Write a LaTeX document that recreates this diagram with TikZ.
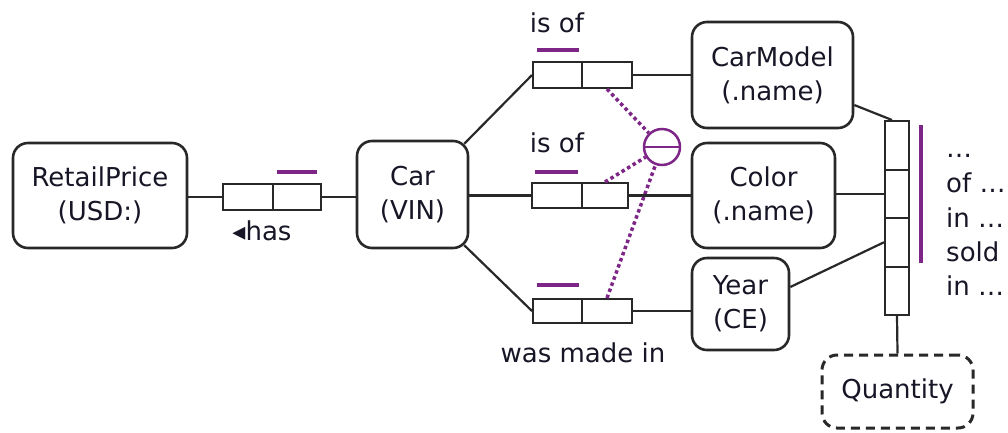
\documentclass[tikz,border=0pt]{standalone}
\usepackage{fontspec}
\setmainfont{DejaVu Sans}
\usetikzlibrary{calc}

\definecolor{txt}{RGB}{22,22,38}
\definecolor{linec}{RGB}{40,40,40}
\definecolor{purp}{RGB}{125,38,135}
\newcommand{\dgmfont}{\fontsize{26}{34}\selectfont}

\tikzset{
  ent/.style={draw=linec, line width=2.6pt, rounded corners=15pt, inner sep=0pt,
    align=center, text=txt, font=\dgmfont, fill=white},
  cell/.style={draw=linec, line width=2pt, inner sep=0pt, minimum height=26pt, fill=white},
  qcell/.style={draw=linec, line width=2pt, inner sep=0pt, minimum width=24pt,
    minimum height=48.5pt, fill=white},
  conn/.style={draw=linec, line width=2.2pt},
  ubar/.style={draw=purp, line width=4pt},
  dotc/.style={draw=purp, line width=3.5pt, dash pattern=on 3.5pt off 3pt},
  lab/.style={text=txt, font=\dgmfont, inner sep=0pt},
}

\begin{document}
\begin{tikzpicture}[x=1pt, y=-1pt]
\useasboundingbox (0,0) rectangle (1008,432);

% entity types
\node[ent, minimum width=174pt, minimum height=105pt] (retail) at (100,195.5) {RetailPrice\\(USD:)};
\node[ent, minimum width=111pt, minimum height=107pt] (car) at (412.5,194.5) {Car\\(VIN)};
\node[ent, minimum width=161pt, minimum height=106pt] (model) at (772.5,75) {CarModel\\(.name)};
\node[ent, minimum width=143pt, minimum height=105pt] (color) at (763.5,195.5) {Color\\(.name)};
\node[ent, minimum width=97pt, minimum height=92pt] (year) at (740.5,304) {Year\\(CE)};
\node[ent, dash pattern=on 9pt off 6pt, line width=3pt, minimum width=151pt, minimum height=73pt] (qty) at (897.5,391.5) {Quantity};

% binary fact type: has
\node[cell, minimum width=50pt] (hasL) at (248,197) {};
\node[cell, minimum width=48pt] (hasR) at (297,197) {};
\draw[ubar] (277,172) -- (317,172);
\node[lab, anchor=base] (haslab) at (262,240) {◂has};

% binary fact type: is of (model)
\node[cell, minimum width=49pt] (isAL) at (557.5,75) {};
\node[cell, minimum width=50pt] (isAR) at (607,75) {};
\draw[ubar] (537,50) -- (579,50);
\node[lab] (isAlab) at (557,23) {is of};

% binary fact type: is of (color)
\node[cell, minimum width=50pt, minimum height=25pt] (isBL) at (557,195.5) {};
\node[cell, minimum width=46pt, minimum height=25pt] (isBR) at (605,195.5) {};
\draw[ubar] (535,172) -- (578,172);
\node[lab] (isBlab) at (557,143) {is of};

% binary fact type: was made in
\node[cell, minimum width=49pt, minimum height=24pt] (madeL) at (557.5,311) {};
\node[cell, minimum width=50pt, minimum height=24pt] (madeR) at (607,311) {};
\draw[ubar] (537,285) -- (579,285);
\node[lab] (madelab) at (583,353) {was made in};

% exclusion-style constraint
\node[circle, draw=purp, line width=2.5pt, minimum size=36pt, inner sep=0pt, fill=white] (excl) at (662,147) {};
\draw[purp, line width=2.5pt] (excl.west) -- (excl.east);
\draw[dotc] (isAR.south) -- (excl);
\draw[dotc] (isBR.north) -- (excl);
\draw[dotc] (madeR.north) -- (excl);

% quaternary fact type
\node[qcell] (q1) at (897,145.25) {};
\node[qcell] (q2) at (897,193.75) {};
\node[qcell] (q3) at (897,242.25) {};
\node[qcell] (q4) at (897,290.75) {};
\draw[ubar] (921,125) -- (921,263);
\foreach \t/\y [count=\i] in {…/157, of …/192, in …/227, sold/261, in …/295}
  \node[lab, anchor=base west] (rd\i) at (946,\y) {\t};

% connectors
\draw[conn] (retail.east |- hasL.west) -- (hasL.west);
\draw[conn] (hasR.east) -- (car.west |- hasR.east);
\draw[conn] ($(car.north east)+(-5,4)$) -- (isAL.west);
\draw[conn] (car.east |- isBL.west) -- (isBL.west);
\draw[conn] ($(car.south east)+(-5,-4)$) -- (madeL.west);
\draw[conn] (isAR.east) -- (model.west |- isAR.east);
\draw[conn] (isBR.east) -- (color.west |- isBR.east);
\draw[conn] (madeR.east) -- (year.west |- madeR.east);
\draw[conn] ($(model.east)+(0,30)$) -- ($(q1.north west)+(8,0)$);
\draw[conn] (color.east |- q2.west) -- (q2.west);
\draw[conn] ($(year.east)+(0,-17)$) -- (q3.west);
\draw[conn] (q4.south) -- (qty.north);
\end{tikzpicture}
\end{document}
